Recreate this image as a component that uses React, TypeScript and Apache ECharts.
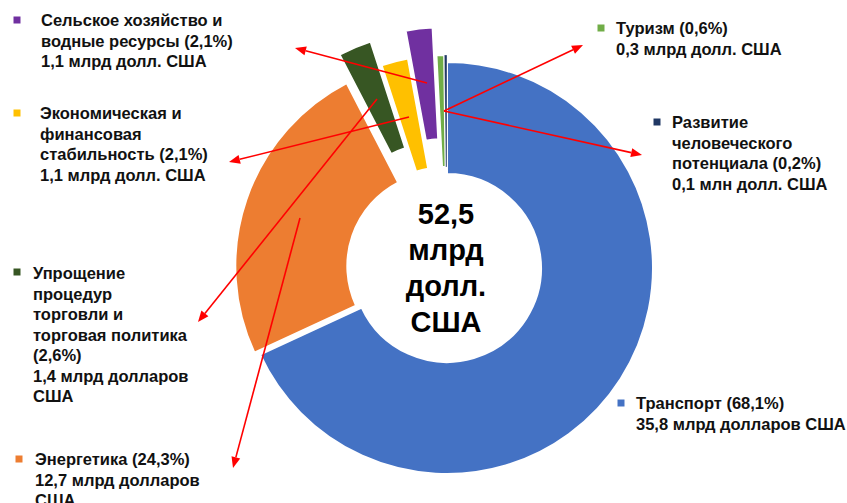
import React, { useEffect, useRef } from "react";
import * as echarts from "echarts";

// ---- data ----
const categories = [
  "Транспорт",
  "Энергетика",
  "Упрощение процедур торговли и торговая политика",
  "Экономическая и финансовая стабильность",
  "Сельское хозяйство и водные ресурсы",
  "Туризм",
  "Развитие человеческого потенциала",
];
const shares = [68.1, 24.3, 2.6, 2.1, 2.1, 0.6, 0.2];
const amounts = [
  "35,8 млрд долларов США",
  "12,7 млрд долларов\nСША",
  "1,4 млрд долларов\nСША",
  "1,1 млрд долл. США",
  "1,1 млрд долл. США",
  "0,3 млрд долл. США",
  "0,1 млн долл. США",
];
const nameLines = [
  "Транспорт",
  "Энергетика",
  "Упрощение\nпроцедур\nторговли и\nторговая политика\n",
  "Экономическая и\nфинансовая\nстабильность",
  "Сельское хозяйство и\nводные ресурсы",
  "Туризм",
  "Развитие\nчеловеческого\nпотенциала",
];
const totalLabel = "52,5\nмлрд\nдолл.\nСША";

// ---- styles / layout ----
const colors = ["#4472C4", "#ED7D31", "#375623", "#FFC000", "#7030A0", "#70AD47", "#203864"];
const explode = [0, 6, 33, 7, 35, 7, 7];
const CX = 447;
const CY = 268;
const R_IN = 94;
const R_OUT = 206;
const FONT = "Liberation Sans, Arial, sans-serif";

const legendPos: [number, number, number, number][] = [
  // squareX, squareY(center), textX, firstLineCenterY
  [621, 403, 636, 403],
  [19, 459, 35, 459],
  [17, 272, 33, 273],
  [17, 113, 40, 113],
  [17, 20, 41, 20],
  [601, 28, 616, 28],
  [657, 122, 672, 122],
];

const arrows: [number, number, number, number][] = [
  [427, 83, 295, 48],
  [409, 117, 229, 162],
  [377, 99, 198, 322],
  [300, 218, 233, 468],
  [444, 111, 583, 45],
  [444, 111, 642, 155],
];

function arrowGraphics() {
  const out: any[] = [];
  arrows.forEach(([x1, y1, x2, y2]) => {
    const dx = x2 - x1;
    const dy = y2 - y1;
    const len = Math.sqrt(dx * dx + dy * dy);
    const ux = dx / len;
    const uy = dy / len;
    const hl = 11;
    const hw = 4.5;
    const bx = x2 - ux * hl;
    const by = y2 - uy * hl;
    out.push({
      type: "line",
      z: 100,
      shape: { x1, y1, x2: bx, y2: by },
      style: { stroke: "#FF0000", lineWidth: 1.6 },
      silent: true,
    });
    out.push({
      type: "polygon",
      z: 100,
      shape: {
        points: [
          [x2, y2],
          [bx - uy * hw, by + ux * hw],
          [bx + uy * hw, by - ux * hw],
        ],
      },
      style: { fill: "#FF0000" },
      silent: true,
    });
  });
  return out;
}

function legendGraphics() {
  const out: any[] = [];
  categories.forEach((_, i) => {
    const [sx, sy, tx, ty] = legendPos[i];
    out.push({
      type: "rect",
      z: 100,
      shape: { x: sx - 3.5, y: sy - 3.5, width: 7, height: 7 },
      style: { fill: colors[i] },
      silent: true,
    });
    const nm = nameLines[i];
    const pct = String(shares[i]).replace(".", ",") + "%";
    const txt = nm.endsWith("\n")
      ? nm + "(" + pct + ")\n" + amounts[i]
      : nm + " (" + pct + ")\n" + amounts[i];
    out.push({
      type: "text",
      z: 100,
      x: tx,
      y: ty - 10.25,
      style: {
        text: txt,
        font: "bold 16.5px " + FONT,
        lineHeight: 20.5,
        fill: "#111",
        textAlign: "left",
        textVerticalAlign: "top",
      },
      silent: true,
    });
  });
  out.push({
    type: "text",
    z: 100,
    x: CX - 1,
    y: CY,
    style: {
      text: totalLabel,
      font: "bold 29px " + FONT,
      lineHeight: 36,
      fill: "#000",
      textAlign: "center",
      textVerticalAlign: "middle",
    },
    silent: true,
  });
  return out;
}

function buildSeries() {
  const total = shares.reduce((a, b) => a + b, 0);
  let cum = 0;
  return shares.map((v, i) => {
    const mid = ((cum + v / 2) / total) * 2 * Math.PI;
    cum += v;
    const cx = CX + explode[i] * Math.sin(mid);
    const cy = CY - explode[i] * Math.cos(mid);
    return {
      type: "pie",
      silent: true,
      center: [cx, cy],
      radius: [R_IN, R_OUT],
      startAngle: 90,
      clockwise: true,
      avoidLabelOverlap: false,
      label: { show: false },
      labelLine: { show: false },
      emphasis: { disabled: true },
      data: shares.map((s, j) => ({
        value: s,
        name: categories[j],
        itemStyle:
          j === i
            ? { color: colors[j], borderColor: "#fff", borderWidth: j === 6 ? 0.3 : 2 }
            : { color: "rgba(0,0,0,0)", borderWidth: 0 },
      })),
    };
  });
}

export default function App() {
  const ref = useRef<HTMLDivElement>(null);
  useEffect(() => {
    if (!ref.current) return;
    const chart = echarts.init(ref.current, undefined, { renderer: "svg" });
    chart.setOption({
      animation: false,
      backgroundColor: "#fff",
      series: buildSeries(),
      graphic: [...arrowGraphics(), ...legendGraphics()],
    });
    return () => chart.dispose();
  }, []);
  return (
    <div
      ref={ref}
      style={{ position: "absolute", left: 0, top: 0, width: 847, height: 503 }}
    />
  );
}
